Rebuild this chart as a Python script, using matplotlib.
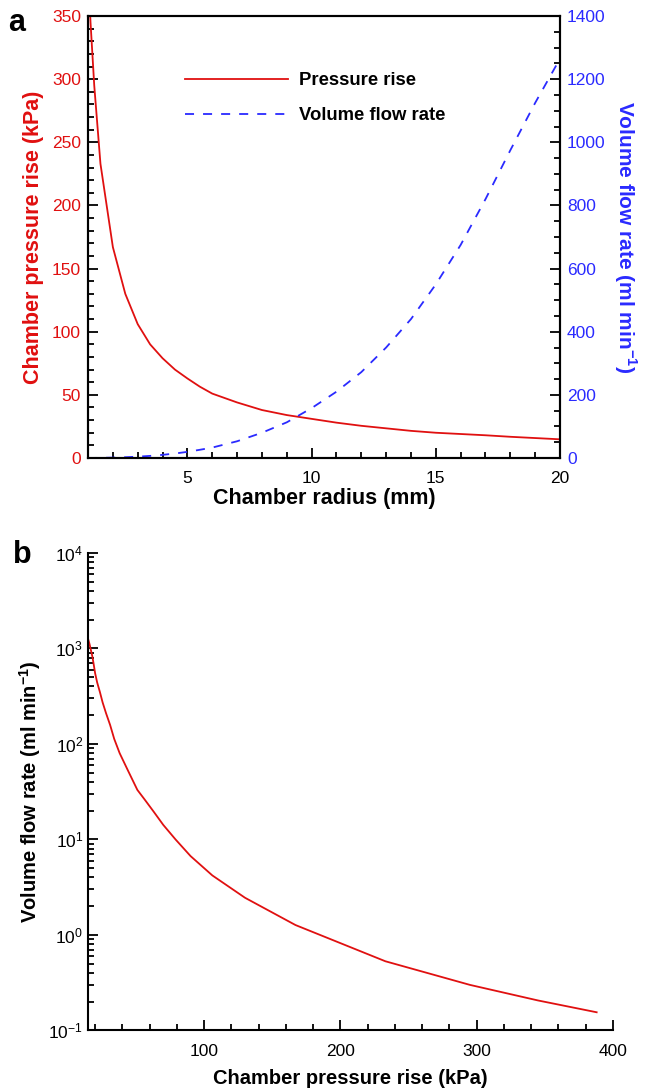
import numpy as np
import matplotlib
matplotlib.use("Agg")
import matplotlib.pyplot as plt
from matplotlib.ticker import MultipleLocator, LogLocator, NullFormatter

plt.rcParams['font.family'] = ['Liberation Sans', 'DejaVu Sans']
plt.rcParams['mathtext.fontset'] = 'custom'
plt.rcParams['mathtext.rm'] = 'Liberation Sans'
plt.rcParams['mathtext.bf'] = 'Liberation Sans:bold'

# values
radius = [1.0, 1.1, 1.25, 1.5, 2.0, 2.5, 3.0, 3.5, 4.0, 4.5, 5.0, 5.5,
          6.0, 7.0, 8.0, 9.0, 10.0, 11.0, 12.0, 13.0, 14.0, 15.0, 16.0,
          17.0, 18.0, 19.0, 20.0]
pressure = [388, 345, 295, 233, 167, 130, 106, 90, 79, 70, 63, 56.5,
            51, 44, 38, 34, 31, 28, 25.5, 23.5, 21.5, 20, 19,
            18, 16.8, 15.8, 14.8]
flow = [0.155, 0.206, 0.30, 0.53, 1.27, 2.45, 4.2, 6.7, 10, 14.2, 19.5, 26,
        33, 53, 80, 113, 158, 210, 272, 350, 440, 550, 675,
        820, 975, 1125, 1265]

RED = '#e01010'
BLUE = '#2a2aff'

fig = plt.figure(figsize=(6.55, 10.91), dpi=100)

# ---- panel a ----
ax = fig.add_axes([0.1344, 0.5802, 0.7206, 0.4051])
ax2 = ax.twinx()

l1, = ax.plot(radius, pressure, color=RED, lw=1.3, label='Pressure rise')
l2, = ax2.plot(radius, flow, color=BLUE, lw=1.3, ls=(0, (5, 5)),
               label='Volume flow rate')

ax.set_xlim(1, 20)
ax.set_ylim(0, 350)
ax2.set_ylim(0, 1400)
ax.set_xticks([5, 10, 15, 20])
ax.xaxis.set_minor_locator(MultipleLocator(1))
ax.yaxis.set_major_locator(MultipleLocator(50))
ax.yaxis.set_minor_locator(MultipleLocator(10))
ax2.yaxis.set_major_locator(MultipleLocator(200))
ax2.yaxis.set_minor_locator(MultipleLocator(50))

for a in (ax, ax2):
    for s in a.spines.values():
        s.set_linewidth(1.5)
ax.tick_params(which='both', direction='in', top=False, right=False,
               width=1.3, labelsize=12.5)
ax.tick_params(which='major', length=7)
ax.tick_params(which='minor', length=4)
ax.tick_params(axis='x', pad=9)
ax.tick_params(axis='y', labelcolor=RED, pad=5)
ax2.tick_params(which='both', direction='in', width=1.3, labelsize=12.5,
                labelcolor=BLUE, pad=5)
ax2.tick_params(which='major', length=7)
ax2.tick_params(which='minor', length=4)

ax.set_xlabel('Chamber radius (mm)', fontsize=15.5, fontweight='bold',
              labelpad=2)
ax.set_ylabel('Chamber pressure rise (kPa)', fontsize=15.5,
              fontweight='bold', color=RED, labelpad=6)
ax2.set_ylabel(r'Volume flow rate (ml min$^{\mathbf{-1}}$)', fontsize=15,
               fontweight='bold', color=BLUE, rotation=-90, labelpad=24)

leg = ax.legend(handles=[l1, l2], loc='upper left',
                bbox_to_anchor=(0.17, 0.91), frameon=False,
                handlelength=5.6, handletextpad=0.6, labelspacing=0.95,
                prop={'weight': 'bold', 'size': 13.3})

fig.text(0.012, 0.993, 'a', fontsize=22, fontweight='bold', va='top')

# ---- panel b ----
bx = fig.add_axes([0.1344, 0.0555, 0.8015, 0.4377])
bx.plot(pressure, flow, color=RED, lw=1.3)
bx.set_yscale('log')
bx.set_xlim(min(pressure), 400)
bx.set_ylim(0.1, 1e4)
bx.set_xticks([100, 200, 300, 400])
bx.xaxis.set_minor_locator(MultipleLocator(20))
bx.yaxis.set_major_locator(LogLocator(base=10, numticks=10))
bx.yaxis.set_minor_locator(LogLocator(base=10, subs=np.arange(2, 10),
                                      numticks=20))
bx.yaxis.set_minor_formatter(NullFormatter())
bx.spines['top'].set_visible(False)
bx.spines['right'].set_visible(False)
for s in ('left', 'bottom'):
    bx.spines[s].set_linewidth(1.5)
bx.tick_params(which='both', direction='in', width=1.3, labelsize=12.5)
bx.tick_params(which='major', length=7)
bx.tick_params(which='minor', length=4)
bx.tick_params(axis='x', pad=10)
bx.set_xlabel('Chamber pressure rise (kPa)', fontsize=14.5,
              fontweight='bold', labelpad=7)
bx.set_ylabel(r'Volume flow rate (ml min$^{\mathbf{-1}}$)', fontsize=14.5,
              fontweight='bold', labelpad=4)

fig.text(0.02, 0.505, 'b', fontsize=22, fontweight='bold', va='top')

fig.savefig('out.png', dpi=100)
